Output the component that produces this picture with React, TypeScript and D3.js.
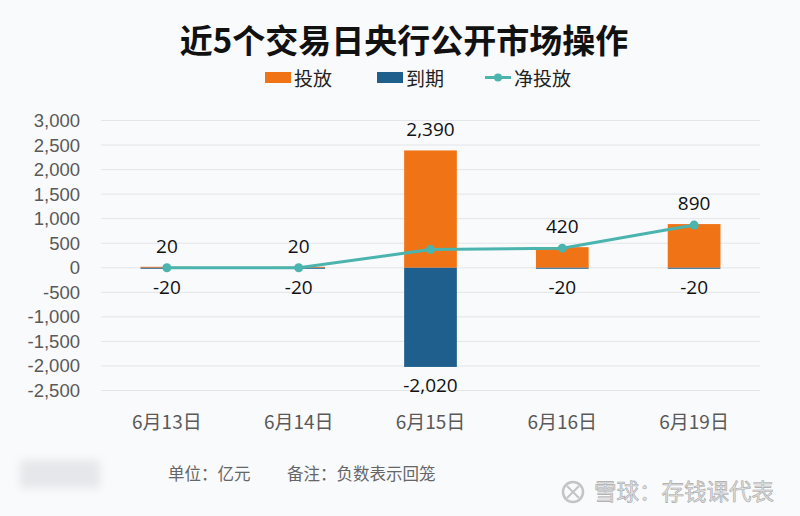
import React from "react";
import * as d3 from "d3";

const categories = ["6月13日", "6月14日", "6月15日", "6月16日", "6月19日"];
const injection = [20, 20, 2390, 420, 890];
const maturity = [-20, -20, -2020, -20, -20];
const netInjection = [0, 0, 370, 400, 870];
const yTicks = [3000, 2500, 2000, 1500, 1000, 500, 0, -500, -1000, -1500, -2000, -2500];

const W = 800;
const H = 516;
const ORANGE = "#F07415";
const BLUE = "#1F5F8D";
const TEAL = "#4BB4AF";
const FONT = "'Noto Sans CJK SC', 'Liberation Sans', sans-serif";
const NUMFONT = "'Open Sans', 'Noto Sans', sans-serif";

const locale = d3.formatLocale({ decimal: ".", thousands: ",", grouping: [3], currency: ["", ""], minus: "-" });
const fmt = locale.format(",");

export default function App() {
  const x = d3.scaleBand<string>().domain(categories).range([101, 760]).paddingInner(0.6).paddingOuter(0.3);
  const y = d3.scaleLinear().domain([-2500, 3000]).range([390.5, 120.5]);
  const bw = x.bandwidth();
  const cx = (c: string) => (x(c) as number) + bw / 2;
  const line = d3
    .line<number>()
    .x((_, i) => cx(categories[i]))
    .y((d) => y(d));

  return (
    <div style={{ position: "absolute", left: 0, top: 0 }}>
      <svg width={W} height={H} viewBox={`0 0 ${W} ${H}`} style={{ display: "block" }}>
        <defs>
          <filter id="blur" x="-20%" y="-50%" width="140%" height="200%">
            <feGaussianBlur stdDeviation="4" />
          </filter>
        </defs>
        <rect width={W} height={H} fill="#F9FAFC" />
        <text x={404} y={53} textAnchor="middle" fontFamily={FONT} fontWeight={700} fontSize={33} fill="#111">
          近5个交易日央行公开市场操作
        </text>
        {/* legend */}
        <g fontFamily={FONT} fontSize={19} fill="#222">
          <rect x={265} y={72} width={26} height={11} fill={ORANGE} />
          <text x={294} y={85.5}>投放</text>
          <rect x={377} y={72} width={26} height={11} fill={BLUE} />
          <text x={406} y={85.5}>到期</text>
          <line x1={485} x2={511} y1={77.5} y2={77.5} stroke={TEAL} strokeWidth={3} />
          <circle cx={498} cy={77.5} r={4} fill={TEAL} />
          <text x={514} y={85.5}>净投放</text>
        </g>
        {/* grid + y axis */}
        {yTicks.map((t) => (
          <g key={t}>
            <line x1={101} x2={760} y1={y(t)} y2={y(t)} stroke="#E3E5E8" strokeWidth={1} />
            <text x={80} y={y(t) + 6.5} textAnchor="end" fontFamily="'Liberation Sans', Arial, sans-serif" fontSize={18.5} fill="#595959">
              {fmt(t)}
            </text>
          </g>
        ))}
        {/* bars */}
        {categories.map((c, i) => (
          <g key={c}>
            <rect x={x(c)} y={y(injection[i])} width={bw} height={y(0) - y(injection[i])} fill={ORANGE} />
            <rect x={x(c)} y={y(0)} width={bw} height={y(maturity[i]) - y(0)} fill={BLUE} />
          </g>
        ))}
        {/* net line */}
        <path d={line(netInjection) || ""} fill="none" stroke={TEAL} strokeWidth={3} />
        {netInjection.map((v, i) => (
          <circle key={i} cx={cx(categories[i])} cy={y(v)} r={4.5} fill={TEAL} />
        ))}
        {/* data labels */}
        <g fontFamily={NUMFONT} fontSize={19} fill="#111" textAnchor="middle">
          {categories.map((c, i) => (
            <g key={c}>
              <text x={cx(c)} y={y(injection[i]) - 14}>{fmt(injection[i])}</text>
              <text x={cx(c)} y={y(maturity[i]) + 25}>{fmt(maturity[i])}</text>
            </g>
          ))}
        </g>
        {/* x labels */}
        {categories.map((c) => (
          <text key={c} x={cx(c)} y={429} textAnchor="middle" fontFamily={FONT} fontSize={19} fill="#595959">
            {c}
          </text>
        ))}
        {/* footer */}
        <rect x={20} y={460} width={80} height={28} fill="#E6E7EA" filter="url(#blur)" />
        <text x={168} y={480} fontFamily={FONT} fontSize={16.5} fill="#666">单位：亿元</text>
        <text x={287} y={480} fontFamily={FONT} fontSize={16.5} fill="#666">备注：负数表示回笼</text>
        <g>
          <circle cx={573} cy={492} r={10} fill="none" stroke="#C4C4C4" strokeWidth={2.5} />
          <path d="M567 486 L573 492 L567 498 M579 486 L573 492 L579 498" fill="none" stroke="#C4C4C4" strokeWidth={2} />
          <text x={594} y={500} fontFamily={FONT} fontSize={22.5} fill="#E2E2E2" stroke="#A8A8A8" strokeWidth={0.6}>
            雪球：存钱课代表
          </text>
        </g>
      </svg>
    </div>
  );
}
